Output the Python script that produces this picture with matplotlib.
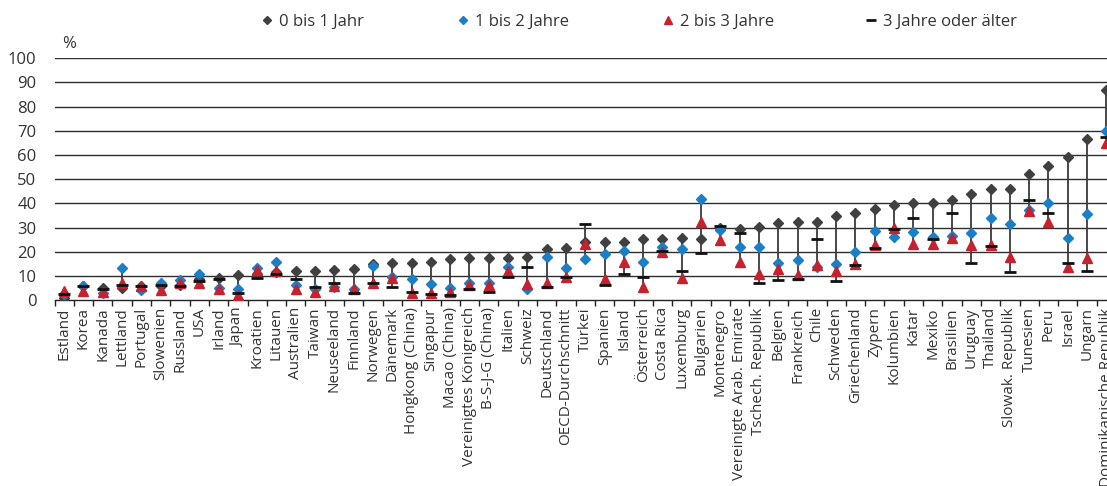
import matplotlib
matplotlib.use("Agg")
import matplotlib.pyplot as plt
from matplotlib.lines import Line2D
import numpy as np

plt.rcParams['font.family'] = ['Open Sans', 'DejaVu Sans']

countries = ["Estland", "Korea", "Kanada", "Lettland", "Portugal", "Slowenien", "Russland", "USA",
             "Irland", "Japan", "Kroatien", "Litauen", "Australien", "Taiwan", "Neuseeland", "Finnland",
             "Norwegen", "Dänemark", "Hongkong (China)", "Singapur", "Macao (China)",
             "Vereinigtes Königreich", "B-S-J-G (China)", "Italien", "Schweiz", "Deutschland",
             "OECD-Durchschnitt", "Türkei", "Spanien", "Island", "Österreich", "Costa Rica",
             "Luxemburg", "Bulgarien", "Montenegro", "Vereinigte Arab. Emirate", "Tschech. Republik",
             "Belgien", "Frankreich", "Chile", "Schweden", "Griechenland", "Zypern", "Kolumbien",
             "Katar", "Mexiko", "Brasilien", "Uruguay", "Thailand", "Slowak. Republik", "Tunesien",
             "Peru", "Israel", "Ungarn", "Dominikanische Republik"]

jahr_0_1 = [1.0, 6.0, 5.2, 5.0, 5.8, 6.0, 6.2, 8.8, 9.3, 10.3, 10.8, 11.5, 12.1, 12.1, 12.4, 13.0,
            15.0, 15.2, 15.2, 15.7, 16.9, 17.3, 17.3, 17.3, 17.7, 21.0, 21.4, 24.0, 24.2, 24.2,
            25.2, 25.2, 25.6, 25.4, 30.0, 29.3, 30.4, 31.8, 32.5, 32.5, 34.8, 35.9, 37.7, 39.5,
            40.3, 40.3, 41.4, 43.9, 46.0, 46.0, 52.2, 55.5, 59.3, 66.5, 86.9]
jahr_1_2 = [2.5, 6.0, 3.0, 13.2, 4.4, 7.2, 8.3, 10.8, 5.0, 4.8, 13.3, 15.7, 6.3, 4.5, 5.5, 4.5,
            14.3, 9.5, 8.6, 6.6, 4.9, 7.2, 7.0, 13.9, 4.5, 18.0, 13.5, 16.9, 19.2, 20.5,
            15.9, 21.9, 21.3, 41.8, 29.0, 21.9, 21.9, 15.2, 16.6, 13.9, 15.0, 19.8, 28.7, 26.0,
            28.1, 26.0, 26.7, 27.7, 34.1, 31.5, 37.3, 40.3, 25.8, 35.6, 70.1]
jahr_2_3 = [4.0, 4.0, 3.2, 7.2, 6.0, 4.4, 7.0, 7.0, 4.8, 2.3, 12.5, 12.0, 4.8, 3.5, 5.8, 4.8,
            7.0, 9.2, 2.9, 3.0, 3.5, 6.3, 6.3, 12.1, 6.7, 7.0, 9.6, 23.2, 8.7, 15.9,
            5.3, 19.8, 9.0, 32.5, 25.0, 15.9, 10.8, 12.8, 10.4, 14.6, 12.2, 14.8, 22.8, 30.0,
            23.2, 23.2, 25.6, 22.8, 22.8, 18.0, 37.0, 32.2, 13.9, 17.6, 64.9]
jahr_3_plus = [2.6, 5.8, 4.8, 6.2, 5.7, 6.1, 6.0, 8.0, 8.8, 2.9, 9.0, 10.8, 8.6, 5.3, 7.0, 3.1,
               7.2, 5.5, 3.2, 2.6, 2.1, 4.6, 3.5, 9.7, 13.9, 5.5, 9.4, 31.6, 6.1, 10.7,
               9.5, 20.5, 12.1, 19.4, 30.7, 27.6, 7.2, 8.4, 8.8, 25.4, 7.9, 14.6, 21.4, 29.3,
               34.1, 25.2, 35.9, 15.2, 22.5, 11.5, 41.4, 35.9, 15.2, 12.1, 67.3]

legend_labels = ["0 bis 1 Jahr", "1 bis 2 Jahre", "2 bis 3 Jahre", "3 Jahre oder älter"]
y_ticks = [0, 10, 20, 30, 40, 50, 60, 70, 80, 90, 100]

c_gray = '#404040'
c_blue = '#1b7fc6'
c_red = '#c5212e'
c_dash = '#111111'

W, H = 1107, 486
fig = plt.figure(figsize=(W / 100, H / 100), dpi=100)
n = len(countries)
step = 19.3
left_px = 54.5
ax_w = n * step
ax = fig.add_axes([left_px / W, (H - 300.2) / H, ax_w / W, (300.2 - 58.3) / H])

x = np.arange(n)
allv = np.array([jahr_0_1, jahr_1_2, jahr_2_3, jahr_3_plus])
lo = allv.min(axis=0)
hi = allv.max(axis=0)
ax.vlines(x, lo, hi, color='#3a3a3a', lw=1.3, zorder=3)

ax.plot(x, jahr_0_1, ls='none', marker='D', ms=4.8, color=c_gray, zorder=4)
ax.plot(x, jahr_1_2, ls='none', marker='D', ms=4.8, color=c_blue, zorder=5)
ax.plot(x, jahr_2_3, ls='none', marker='^', ms=7, color=c_red, zorder=6)
ax.plot(x, jahr_3_plus, ls='none', marker='_', ms=9, mew=2, color=c_dash, zorder=7)

ax.set_xlim(-0.5, n - 0.5)
ax.set_ylim(0, 100)
ax.set_yticks(y_ticks)
ax.set_yticklabels([str(v) for v in y_ticks], fontsize=12, color='#333333')
ax.tick_params(axis='y', length=0, pad=13)
for v in y_ticks[1:]:
    ax.axhline(v, color='#2e2e2e', lw=1.0, zorder=1)

ax.set_xticks(x)
ax.set_xticklabels(countries, rotation=90, fontsize=11, color='#333333')
ax.set_xticks(np.arange(n + 1) - 0.5, minor=True)
ax.tick_params(axis='x', which='major', length=0, pad=5)
ax.tick_params(axis='x', which='minor', length=4, width=1, color='#222222')

for s in ['top', 'right', 'left']:
    ax.spines[s].set_visible(False)
ax.spines['bottom'].set_color('#222222')
ax.spines['bottom'].set_linewidth(1.0)
ax.set_facecolor('none')

fig.text(62 / W, (H - 44) / H, '%', fontsize=12, color='#333333', ha='left', va='center')

handles = [
    Line2D([], [], ls='none', marker='D', ms=3.8, color=c_gray),
    Line2D([], [], ls='none', marker='D', ms=3.8, color=c_blue),
    Line2D([], [], ls='none', marker='^', ms=5.5, color=c_red),
    Line2D([], [], ls='none', marker='_', ms=6.5, mew=2, color=c_dash),
]
marker_x = [267, 463, 668, 871]
fs = 12
fs_px = fs * 100 / 72
hl = 0.8
for h, lab, mx in zip(handles, legend_labels, marker_x):
    anchor = (mx - hl * fs_px / 2) / W
    fig.legend([h], [lab], loc='center left', bbox_to_anchor=(anchor, (H - 22) / H),
               frameon=False, fontsize=fs, handlelength=hl, handletextpad=0.3,
               borderpad=0, borderaxespad=0, labelcolor='#333333')

fig.savefig('out.png', dpi=100)
